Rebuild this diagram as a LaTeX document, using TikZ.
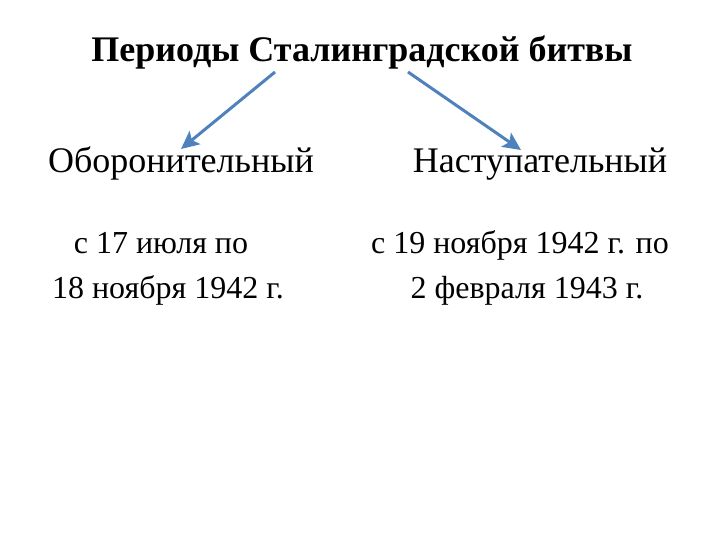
\documentclass[tikz,border=0pt]{standalone}
\usepackage{fontspec}
\setmainfont{Liberation Serif}
\usetikzlibrary{arrows.meta}
\definecolor{arrowblue}{RGB}{79,129,189}

\begin{document}
\begin{tikzpicture}[x=1pt,y=-1pt]
    \useasboundingbox (0,0) rectangle (720,540);
    \tikzset{period/.style={anchor=base, font=\fontsize{36}{40}\selectfont},
             datum/.style={anchor=base, font=\fontsize{32}{36}\selectfont},
             pointer/.style={arrowblue, line width=3pt, -{Stealth[length=18pt,width=17pt,inset=4pt]}}}
    \node[anchor=base, font=\bfseries\fontsize{36}{40}\selectfont] (title) at (362,62) {Периоды Сталинградской битвы};
    \node[period] (defence) at (181,173) {Оборонительный};
    \node[period] (offence) at (540,173) {Наступательный};
    \node[datum] (dfrom) at (161,253) {с 17 июля по};
    \node[datum] (dto) at (168,298) {18 ноября 1942 г.};
    \node[datum] (ofrom) at (520,253) {с 19 ноября 1942 г. по};
    \node[datum] (oto) at (527,298) {2 февраля 1943 г.};
    \coordinate (lstart) at (275,72);
    \coordinate (rstart) at (408,72);
    \coordinate (lend) at (181,149);
    \coordinate (rend) at (521,150);
    \draw[pointer] (lstart) -- (lend);
    \draw[pointer] (rstart) -- (rend);
\end{tikzpicture}
\end{document}
